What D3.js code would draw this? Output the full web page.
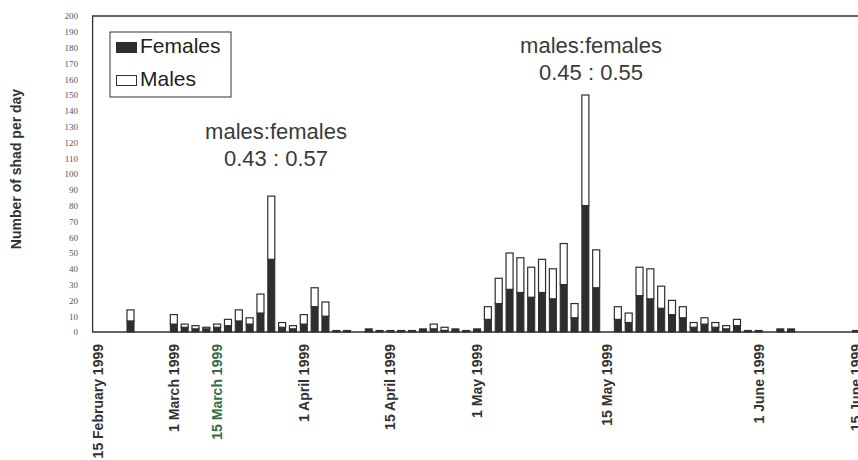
<!DOCTYPE html>
<html>
<head>
<meta charset="utf-8">
<script src="https://cdn.jsdelivr.net/npm/d3@7/dist/d3.min.js"></script>
<style>
  body { margin: 0; background: #fff; }
  svg { display: block; }
</style>
</head>
<body>
<svg id="chart"></svg>
<script>
// sampling days on the category axis (0 = 15 February 1999)
const dayIndex = [3, 7, 8, 9, 10, 11, 12, 13, 14, 15, 16, 17, 18, 19, 20, 21, 22, 23, 25, 26,
  27, 28, 29, 30, 31, 32, 33, 34, 35, 36, 37, 38, 39, 40, 41, 42, 43, 44, 45, 46,
  48, 49, 50, 51, 52, 53, 54, 55, 56, 57, 58, 59, 60, 61, 63, 64, 70];
const females = [7, 5, 3, 2, 2, 3, 4, 7, 5, 12, 46, 3, 2, 5, 16, 10, 1, 1, 2, 1,
  1, 1, 1, 2, 2, 1, 2, 1, 2, 8, 18, 27, 25, 22, 25, 21, 30, 9, 80, 28,
  8, 6, 23, 21, 15, 11, 9, 3, 5, 3, 2, 4, 1, 1, 2, 2, 1];
const males = [7, 6, 2, 2, 1, 2, 4, 7, 4, 12, 40, 3, 2, 6, 12, 9, 0, 0, 0, 0,
  0, 0, 0, 0, 3, 2, 0, 0, 0, 8, 16, 23, 22, 19, 21, 19, 26, 9, 70, 24,
  8, 6, 18, 19, 14, 9, 7, 3, 4, 3, 2, 4, 0, 0, 0, 0, 0];

const tickIndex = [0, 7, 11, 19, 27, 35, 47, 61, 70];
const tickLabels = ["15 February 1999", "1 March 1999", "15 March 1999", "1 April 1999",
  "15 April 1999", "1 May 1999", "15 May 1999", "1 June 1999", "15 June 1999"];

const yTicks = d3.range(0, 201, 10);

const width = 858, height = 460;
const plotLeft = 92.6, plotTop = 16, plotBottom = 332;
const slots = 74, step = 10.83;
const plotRight = plotLeft + slots * step;

const svg = d3.select('#chart')
  .attr('width', width)
  .attr('height', height);

const x = d3.scaleBand()
  .domain(d3.range(slots))
  .range([plotLeft, plotRight])
  .paddingInner(0.35)
  .paddingOuter(0.175);

const y = d3.scaleLinear()
  .domain([0, 200])
  .range([plotBottom, plotTop]);

// frame: left side, top, baseline
svg.append('path')
  .attr('d', `M${plotRight},${plotTop}H${plotLeft}V${plotBottom}H${plotRight}`)
  .attr('fill', 'none')
  .attr('stroke', '#333')
  .attr('stroke-width', 1.3);

// y axis labels
const yAxis = svg.append('g')
  .attr('transform', 'translate(78,0)')
  .call(d3.axisLeft(y).tickValues(yTicks).tickSize(0).tickPadding(0));
yAxis.select('.domain').remove();
yAxis.selectAll('text')
  .attr('font-family', '"Liberation Serif", serif')
  .attr('font-size', 9)
  .attr('fill', '#555');

svg.append('text')
  .attr('transform', 'translate(21,169) rotate(-90)')
  .attr('text-anchor', 'middle')
  .attr('font-family', '"Liberation Sans", Arial, sans-serif')
  .attr('font-weight', 'bold')
  .attr('font-size', 14)
  .attr('fill', '#333')
  .text('Number of shad per day');

// x axis labels
const xAxis = svg.append('g')
  .attr('transform', `translate(0,${plotBottom})`)
  .call(d3.axisBottom(x)
    .tickValues(tickIndex)
    .tickSize(0)
    .tickFormat(d => tickLabels[tickIndex.indexOf(d)]));
xAxis.select('.domain').remove();
xAxis.selectAll('text')
  .attr('transform', 'rotate(-90)')
  .attr('x', -12)
  .attr('y', 0)
  .attr('dy', '0.36em')
  .attr('text-anchor', 'end')
  .attr('font-family', '"Liberation Sans", Arial, sans-serif')
  .attr('font-weight', 'bold')
  .attr('font-size', 14)
  .attr('fill', d => d === 11 ? '#2f6e45' : '#333');

// stacked bars
const bars = svg.append('g');
dayIndex.forEach((d, i) => {
  const f = females[i], m = males[i];
  bars.append('rect')
    .attr('x', x(d))
    .attr('y', y(f))
    .attr('width', x.bandwidth())
    .attr('height', y(0) - y(f))
    .attr('fill', '#2e2e2e')
    .attr('stroke', '#2e2e2e')
    .attr('stroke-width', 1);
  if (m > 0) {
    bars.append('rect')
      .attr('x', x(d))
      .attr('y', y(f + m))
      .attr('width', x.bandwidth())
      .attr('height', y(f) - y(f + m))
      .attr('fill', '#fff')
      .attr('stroke', '#2e2e2e')
      .attr('stroke-width', 1.2);
  }
});

// legend
const legend = svg.append('g');
legend.append('rect')
  .attr('x', 110).attr('y', 32).attr('width', 121).attr('height', 65)
  .attr('fill', '#fff').attr('stroke', '#333').attr('stroke-width', 1);
legend.append('rect')
  .attr('x', 116).attr('y', 42).attr('width', 21).attr('height', 11)
  .attr('fill', '#2e2e2e');
legend.append('rect')
  .attr('x', 116.5).attr('y', 75.5).attr('width', 20).attr('height', 10)
  .attr('fill', '#fff').attr('stroke', '#333').attr('stroke-width', 1);
[['Females', 53], ['Males', 86]].forEach(([t, yy]) => {
  legend.append('text')
    .attr('x', 140).attr('y', yy)
    .attr('font-family', '"Liberation Sans", Arial, sans-serif')
    .attr('font-size', 21)
    .attr('fill', '#222')
    .text(t);
});

// ratio annotations
const notes = [
  { cx: 276, y1: 139, lines: ['males:females', '0.43 : 0.57'] },
  { cx: 591, y1: 53, lines: ['males:females', '0.45 : 0.55'] }
];
notes.forEach(n => {
  n.lines.forEach((t, k) => {
    svg.append('text')
      .attr('x', n.cx).attr('y', n.y1 + k * 27)
      .attr('text-anchor', 'middle')
      .attr('font-family', '"Liberation Sans", Arial, sans-serif')
      .attr('font-size', 22)
      .attr('fill', '#3a3a3a')
      .text(t);
  });
});
</script>
</body>
</html>
